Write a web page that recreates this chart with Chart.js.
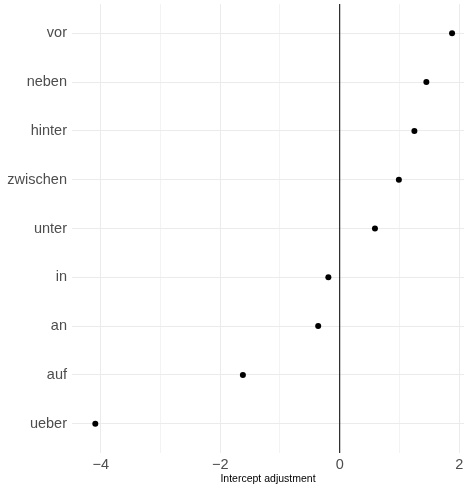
<!DOCTYPE html>
<html>
<head>
<meta charset="utf-8">
<script src="https://cdn.jsdelivr.net/npm/chart.js@4"></script>
<style>
  html, body { margin: 0; padding: 0; background: #fff; }
  #wrap { width: 468px; height: 485px; }
</style>
</head>
<body>
<div id="wrap"><canvas id="chart"></canvas></div>
<script>
// categories from bottom to top
var prepositions = ['ueber', 'auf', 'an', 'in', 'unter', 'zwischen', 'hinter', 'neben', 'vor'];
var adjustments = [-4.09, -1.62, -0.36, -0.19, 0.59, 0.99, 1.25, 1.45, 1.88];
var xTickValues = [-4, -3, -2, -1, 0, 1, 2];
var xMajorTicks = [-4, -2, 0, 2];

var points = [];
for (var i = 0; i < prepositions.length; i++) {
  points.push({x: adjustments[i], y: i + 1});
}

var ctx = document.getElementById('chart');
var myChart = new Chart(ctx, {
  type: 'scatter',
  data: {
    datasets: [{
      label: 'zero',
      data: [{x: 0, y: 0.4}, {x: 0, y: prepositions.length + 0.6}],
      showLine: true,
      borderColor: '#000',
      borderWidth: 1,
      pointRadius: 0,
      order: 2
    }, {
      label: 'Intercept adjustment',
      data: points,
      backgroundColor: '#000',
      borderColor: '#000',
      pointRadius: 3,
      pointBorderWidth: 0,
      order: 1
    }]
  },
  options: {
    responsive: true,
    maintainAspectRatio: false,
    animation: false,
    layout: { padding: { top: 4, right: 0, left: 0, bottom: 0 } },
    plugins: { legend: { display: false }, tooltip: { enabled: false } },
    scales: {
      x: {
        type: 'linear',
        min: -4.48,
        max: 2.08,
        afterBuildTicks: function(scale) {
          scale.ticks = xTickValues.map(function(v) { return {value: v}; });
        },
        afterFit: function(scale) {
          scale.height = 32;
          scale.paddingLeft = 0;
          scale.paddingRight = 0;
        },
        border: { display: false },
        grid: {
          drawTicks: false,
          color: '#EBEBEB',
          lineWidth: function(c) {
            return xMajorTicks.indexOf(c.tick.value) >= 0 ? 1 : 0.6;
          }
        },
        ticks: {
          padding: 3,
          maxRotation: 0,
          autoSkip: false,
          color: '#4D4D4D',
          font: { family: 'Liberation Sans', size: 14.5 },
          callback: function(v) {
            if (xMajorTicks.indexOf(v) < 0) return '';
            return v < 0 ? '\u2212' + Math.abs(v) : String(v);
          }
        },
        title: {
          display: true,
          text: 'Intercept adjustment',
          color: '#000',
          padding: { top: 0, bottom: 0 },
          font: { family: 'Liberation Sans', size: 10.5 }
        }
      },
      y: {
        type: 'linear',
        min: 0.4,
        max: prepositions.length + 0.6,
        afterBuildTicks: function(scale) {
          scale.ticks = prepositions.map(function(p, i) { return {value: i + 1}; });
        },
        afterFit: function(scale) {
          scale.width = 72;
          scale.paddingTop = 0;
          scale.paddingBottom = 0;
        },
        border: { display: false },
        grid: { drawTicks: false, color: '#EBEBEB', lineWidth: 1 },
        ticks: {
          padding: 5,
          autoSkip: false,
          color: '#4D4D4D',
          font: { family: 'Liberation Sans', size: 14.5 },
          callback: function(v) { return prepositions[v - 1]; }
        }
      }
    }
  }
});
</script>
</body>
</html>
